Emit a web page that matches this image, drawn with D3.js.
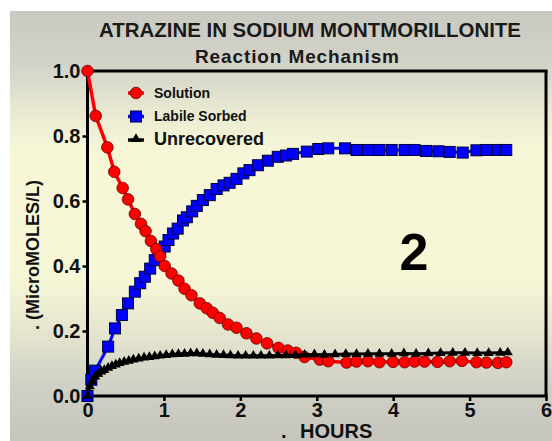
<!DOCTYPE html>
<html><head><meta charset="utf-8">
<script src="https://cdn.jsdelivr.net/npm/d3@7/dist/d3.min.js"></script>
<style>body{margin:0;background:#fff}svg{display:block}text{font-family:"Liberation Sans",Arial,sans-serif}</style>
</head><body><div id="chart"></div>
<script>
const title = "ATRAZINE IN SODIUM MONTMORILLONITE";
const subtitle = "Reaction Mechanism";
const xLabel = "HOURS";
const yLabel = ". (MicroMOLES/L)";
const panelLabel = "2";
const seriesNames = ["Solution", "Labile Sorbed", "Unrecovered"];
const xTicks = [0, 1, 2, 3, 4, 5, 6];
const yTicks = [0, 0.2, 0.4, 0.6, 0.8, 1.0];

const solutionT = [0,0.107,0.26,0.35,0.46,0.53,0.62,0.70,0.76,0.83,0.9,0.95,1.01,1.1,1.19,1.27,1.36,1.47,1.56,1.64,1.73,1.84,1.95,2.08,2.21,2.35,2.5,2.62,2.73,2.84,3.04,3.15,3.39,3.52,3.67,3.82,4.0,4.15,4.28,4.41,4.58,4.74,4.9,5.09,5.22,5.37,5.48];
const solutionV = [1.0,0.862,0.765,0.69,0.64,0.605,0.56,0.53,0.507,0.477,0.452,0.43,0.40,0.377,0.355,0.33,0.31,0.285,0.27,0.256,0.24,0.22,0.21,0.193,0.177,0.162,0.148,0.14,0.133,0.12,0.112,0.107,0.103,0.106,0.107,0.104,0.105,0.104,0.106,0.106,0.105,0.107,0.108,0.104,0.103,0.102,0.104];

const sorbedT = [0,0.05,0.1,0.27,0.36,0.45,0.53,0.62,0.69,0.75,0.82,0.88,0.95,1.01,1.06,1.12,1.18,1.25,1.3,1.37,1.43,1.51,1.6,1.69,1.78,1.86,1.95,2.04,2.12,2.23,2.36,2.49,2.6,2.69,2.87,3.02,3.15,3.37,3.52,3.67,3.82,3.98,4.15,4.28,4.43,4.59,4.74,4.91,5.09,5.22,5.37,5.48];
const sorbedV = [0,0.05,0.078,0.152,0.208,0.249,0.285,0.321,0.347,0.367,0.392,0.418,0.445,0.46,0.48,0.50,0.515,0.54,0.55,0.568,0.585,0.603,0.618,0.637,0.648,0.656,0.668,0.685,0.695,0.71,0.724,0.736,0.74,0.745,0.752,0.76,0.762,0.762,0.757,0.757,0.757,0.757,0.757,0.757,0.754,0.753,0.751,0.749,0.756,0.757,0.757,0.757];

const unrecT = [0,0.03,0.06,0.1,0.14,0.18,0.22,0.27,0.32,0.37,0.42,0.48,0.54,0.6,0.67,0.74,0.81,0.88,0.95,1.03,1.11,1.19,1.27,1.35,1.43,1.51,1.6,1.69,1.78,1.87,1.97,2.07,2.17,2.27,2.38,2.49,2.6,2.72,2.84,2.97,3.1,3.24,3.38,3.52,3.67,3.82,3.98,4.14,4.3,4.46,4.62,4.78,4.94,5.1,5.25,5.4,5.5];
const unrecV = [0,0.03,0.045,0.06,0.068,0.075,0.08,0.087,0.092,0.097,0.101,0.105,0.108,0.112,0.115,0.118,0.12,0.122,0.124,0.126,0.128,0.129,0.13,0.131,0.131,0.13,0.128,0.127,0.126,0.125,0.124,0.124,0.124,0.124,0.124,0.125,0.125,0.126,0.127,0.128,0.127,0.128,0.129,0.129,0.13,0.13,0.13,0.131,0.13,0.131,0.132,0.133,0.133,0.132,0.132,0.133,0.134];

const W = 552, H = 441;
const svg = d3.select("#chart").append("svg").attr("width", W).attr("height", H);
const defs = svg.append("defs");
const grad = defs.append("linearGradient").attr("id","bg").attr("x1",0).attr("y1",0).attr("x2",0).attr("y2",1);
[[0,"#c9c9c2"],[0.12,"#d2d2c8"],[0.25,"#ececd3"],[0.33,"#f7f7d7"],[0.62,"#f7f7d7"],[0.74,"#e6e6cf"],[0.87,"#d0d0c6"],[1,"#c5c5be"]]
  .forEach(([o,c]) => grad.append("stop").attr("offset",o).attr("stop-color",c));
svg.append("rect").attr("width",W).attr("height",H).attr("fill","#fff");
svg.append("rect").attr("x",10).attr("y",11).attr("width",W-10).attr("height",H-11).attr("fill","url(#bg)");

const x = d3.scaleLinear().domain([0,6]).range([87.5,546]);
const y = d3.scaleLinear().domain([0,1]).range([396,71]);

// titles
svg.append("text").attr("x",310).attr("y",37).attr("text-anchor","middle")
  .attr("font-size",20).attr("font-weight","bold").attr("fill","#1a1a1a")
  .attr("textLength",422).attr("lengthAdjust","spacingAndGlyphs").text(title);
svg.append("text").attr("x",297).attr("y",63).attr("text-anchor","middle")
  .attr("font-size",19).attr("font-weight","bold").attr("fill","#1a1a1a")
  .attr("textLength",204).attr("lengthAdjust","spacing").text(subtitle);

// frame top/right
svg.append("line").attr("x1",x(0)).attr("x2",x(6)+1.5).attr("y1",y(1)).attr("y2",y(1)).attr("stroke","#000").attr("stroke-width",3);
svg.append("line").attr("x1",x(6)).attr("x2",x(6)).attr("y1",y(1)).attr("y2",y(0)).attr("stroke","#000").attr("stroke-width",3);

// axes
const xAxis = svg.append("g").attr("transform",`translate(0,${y(0)})`)
  .call(d3.axisBottom(x).tickValues(xTicks).tickFormat(d3.format("d")).tickSize(5).tickSizeOuter(0).tickPadding(2));
const yAxis = svg.append("g").attr("transform",`translate(${x(0)},0)`)
  .call(d3.axisLeft(y).tickValues(yTicks).tickFormat(d3.format(".1f")).tickSize(5).tickSizeOuter(0).tickPadding(2));
[xAxis,yAxis].forEach(g => {
  g.select(".domain").attr("stroke","#000").attr("stroke-width",3);
  g.selectAll(".tick line").attr("stroke","#000").attr("stroke-width",2.5);
  g.selectAll(".tick text").attr("font-size",20).attr("font-weight","bold").attr("fill","#111")
    .style("font-family",'"Liberation Sans",Arial,sans-serif');
});
yAxis.select(".domain").attr("d",`M0,${y(1)-1.5}V${y(0)+1.5}`);
xAxis.select(".domain").attr("d",`M${x(0)-1.5},0H${x(6)+1.5}`);

// axis labels
const xl = svg.append("text").attr("y",437.5).attr("font-size",20).attr("font-weight","bold").attr("fill","#111");
xl.append("tspan").attr("x",281).text(".");
xl.append("tspan").attr("x",300).text(xLabel);
svg.append("text").attr("transform","translate(39,255) rotate(-90)").attr("text-anchor","middle")
  .attr("font-size",18).attr("font-weight","bold").attr("fill","#111").text(yLabel);

// panel label
svg.append("text").attr("x",414).attr("y",270).attr("text-anchor","middle")
  .attr("font-size",52).attr("font-weight","bold").attr("fill","#000").text(panelLabel);

const line = d3.line().x(d => x(d[0])).y(d => y(d[1]));
const zip = (a,b) => a.map((t,i) => [t,b[i]]);
const sol = zip(solutionT, solutionV), sor = zip(sorbedT, sorbedV), unr = zip(unrecT, unrecV);

const tri = d3.symbol().type(d3.symbolTriangle).size(44);
const sq = 11;

// Labile sorbed
svg.append("path").datum(sor).attr("d",line).attr("fill","none").attr("stroke","#0000ff").attr("stroke-width",3);
svg.append("g").selectAll("rect").data(sor).join("rect")
  .attr("x",d=>x(d[0])-sq/2).attr("y",d=>y(d[1])-sq/2).attr("width",sq).attr("height",sq)
  .attr("fill","#0000ff").attr("stroke","#000040").attr("stroke-width",1);
// Solution
svg.append("path").datum(sol).attr("d",line).attr("fill","none").attr("stroke","#ff0000").attr("stroke-width",3.5);
svg.append("g").selectAll("circle").data(sol).join("circle")
  .attr("cx",d=>x(d[0])).attr("cy",d=>y(d[1])).attr("r",5.8)
  .attr("fill","#ff0000").attr("stroke","#600000").attr("stroke-width",0.8);
// Unrecovered
svg.append("path").datum(unr).attr("d",line).attr("fill","none").attr("stroke","#000").attr("stroke-width",3);
svg.append("g").selectAll("path").data(unr).join("path")
  .attr("transform",d=>`translate(${x(d[0])},${y(d[1])})`).attr("d",tri).attr("fill","#000");

// legend
const leg = [
  {name:seriesNames[0], y:93, color:"#ff0000", shape:"circle", fs:14, ty:98},
  {name:seriesNames[1], y:116.5, color:"#0000ff", shape:"square", fs:14, ty:121},
  {name:seriesNames[2], y:140, color:"#000", shape:"tri", fs:18, ty:145}
];
leg.forEach(l => {
  svg.append("line").attr("x1",128).attr("x2",144).attr("y1",l.y).attr("y2",l.y).attr("stroke",l.color).attr("stroke-width",3.5);
  if (l.shape==="circle") svg.append("circle").attr("cx",136).attr("cy",l.y).attr("r",5.8).attr("fill",l.color).attr("stroke","#600000").attr("stroke-width",0.8);
  else if (l.shape==="square") svg.append("rect").attr("x",136-sq/2).attr("y",l.y-sq/2).attr("width",sq).attr("height",sq).attr("fill",l.color).attr("stroke","#000040");
  else svg.append("path").attr("transform",`translate(136,${l.y-1})`).attr("d",tri).attr("fill","#000");
  svg.append("text").attr("x",154).attr("y",l.ty).attr("font-size",l.fs).attr("font-weight","bold").attr("fill","#111").text(l.name);
});
</script></body></html>
